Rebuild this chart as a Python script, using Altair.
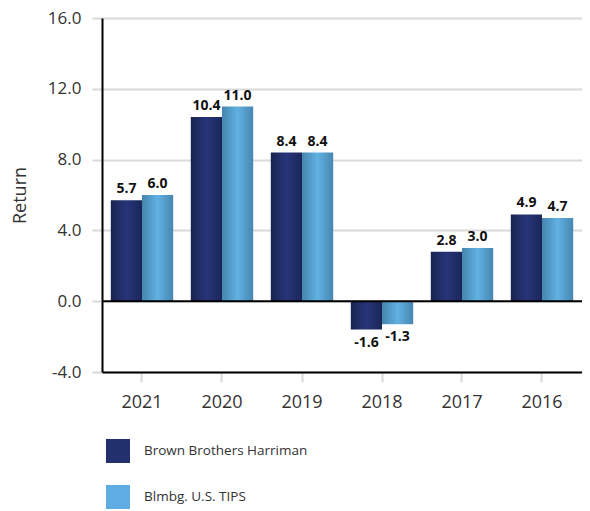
import altair as alt
import pandas as pd

years = ["2021", "2020", "2019", "2018", "2017", "2016"]
series_names = ["Brown Brothers Harriman", "Blmbg. U.S. TIPS"]
bbh = [5.7, 10.4, 8.4, -1.6, 2.8, 4.9]
tips = [6.0, 11.0, 8.4, -1.3, 3.0, 4.7]
y_ticks = [-4, 0, 4, 8, 12, 16]
legend_colors = ["#22306e", "#5dade2"]

rows = []
for i, y in enumerate(years):
    rows.append({"year": y, "series": series_names[0], "value": bbh[i]})
    rows.append({"year": y, "series": series_names[1], "value": tips[i]})
df = pd.DataFrame(rows)

grad_dark = alt.LinearGradient(
    gradient="linear", x1=0, x2=1, y1=0, y2=0,
    stops=[alt.GradientStop(offset=0, color="#1a2350"),
           alt.GradientStop(offset=0.5, color="#26357a"),
           alt.GradientStop(offset=1, color="#1c2659")])
grad_light = alt.LinearGradient(
    gradient="linear", x1=0, x2=1, y1=0, y2=0,
    stops=[alt.GradientStop(offset=0, color="#4685ad"),
           alt.GradientStop(offset=0.5, color="#61b1e3"),
           alt.GradientStop(offset=1, color="#4886b0")])

FONT = "Open Sans"
fix_minus = "replace(datum.label, '\u2212', '-')"

x_enc = alt.X("year:N", sort=years,
              scale=alt.Scale(paddingInner=0.22, paddingOuter=0.11),
              axis=alt.Axis(title=None, labelFont=FONT, labelFontSize=18,
                            labelColor="#333333", labelPadding=11,
                            domainColor="#000000", domainWidth=2,
                            ticks=True, tickColor="#d9d9d9", tickWidth=2, tickSize=10,
                            labelAngle=0, grid=False))
y_enc = alt.Y("value:Q",
              scale=alt.Scale(domain=[-4, 16], nice=False, zero=False),
              axis=alt.Axis(title="Return", values=y_ticks, format=".1f",
                            labelExpr=fix_minus,
                            labelFont=FONT, labelFontSize=17, labelColor="#333333",
                            labelPadding=11, ticks=True, tickColor="#d9d9d9", tickWidth=2,
                            tickSize=10, domainColor="#000000", domainWidth=2,
                            gridColor="#d9d9d9", gridWidth=2,
                            titleFont=FONT, titleFontSize=18, titleFontWeight="normal",
                            titleColor="#333333", titlePadding=18))
xoff = alt.XOffset("series:N", sort=series_names,
                   scale=alt.Scale(paddingInner=0, paddingOuter=0))

base = alt.Chart(df).transform_calculate(
    lbl="replace(format(datum.value, '.1f'), '\u2212', '-')")

bars = base.mark_bar().encode(
    x=x_enc, y=y_enc, xOffset=xoff,
    color=alt.condition(alt.datum.series == series_names[0],
                        alt.value(grad_dark), alt.value(grad_light)))

legend_layer = base.mark_square(opacity=0).encode(
    color=alt.Color("series:N", sort=series_names,
                    scale=alt.Scale(domain=series_names, range=legend_colors),
                    legend=alt.Legend(title=None, orient="none", legendX=4, legendY=421,
                                      symbolType="square", symbolSize=576,
                                      symbolOpacity=1, symbolStrokeWidth=0,
                                      labelFont=FONT, labelFontSize=13.5, labelLimit=0,
                                      labelColor="#333333", rowPadding=22,
                                      labelOffset=14, padding=0, direction="vertical")))

pos_text = base.transform_filter(alt.datum.value >= 0).mark_text(
    baseline="bottom", dy=-4, font=FONT, fontSize=14, fontWeight="bold", color="#111111"
).encode(x=alt.X("year:N", sort=years), y="value:Q", xOffset=xoff,
         text=alt.Text("lbl:N"))
neg_text = base.transform_filter(alt.datum.value < 0).mark_text(
    baseline="top", dy=6, font=FONT, fontSize=14, fontWeight="bold", color="#111111"
).encode(x=alt.X("year:N", sort=years), y="value:Q", xOffset=xoff,
         text=alt.Text("lbl:N"))

zero = alt.Chart(pd.DataFrame({"z": [0]})).mark_rule(color="#000000", strokeWidth=2).encode(
    y=alt.Y("z:Q"))

chart = alt.layer(bars, zero, pos_text, neg_text, legend_layer).properties(
    width=480, height=354,
    autosize=alt.AutoSizeParams(type="none"),
    padding={"left": 94, "top": 10, "right": 0, "bottom": 137},
).configure_view(stroke=None).configure(background="white")

chart.save("out.html", embed_options={"renderer": "svg", "actions": False})
